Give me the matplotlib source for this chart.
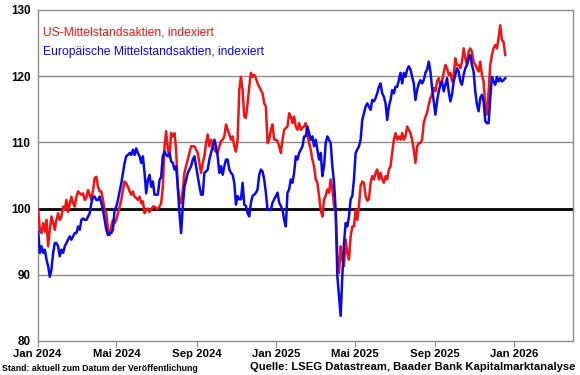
import matplotlib
matplotlib.use("Agg")
import matplotlib.pyplot as plt
import matplotlib.dates as mdates
import pandas as pd

# index values, evenly spaced from 2 Jan 2024 to 18 Dec 2025
us_values = [
    # Jan - Apr 2024
    99.9, 96.8, 96.3, 97.8, 96.5, 98.3, 94.3, 96.8, 98.8, 97.8, 96.8, 98.3, 99.3, 98.3, 98.8, 100.3,
    99.8, 101.3, 99.5, 100.8, 101.8, 100.8, 100.3, 101.8, 102.6, 102.3, 102.1, 102.3, 101.3, 101.6,
    102.8, 102.1, 101.3, 102.8, 104.6, 104.8, 103.3, 102.6, 102.6, 101.3, 99.8, 99.3, 96.8, 96.0,
    97.3, 98.3,
    # Apr - Aug 2024
    97.8, 98.3, 99.3, 100.3, 101.3, 102.8, 104.1, 103.8, 103.3, 102.6, 102.1, 102.6, 101.8, 101.6,
    101.3, 101.8, 100.8, 101.1, 99.3, 99.8, 100.0, 99.5, 99.8, 100.3, 100.3, 100.0, 100.0, 100.3,
    100.8, 103.3, 109.4, 111.7, 108.9, 107.9, 111.4, 110.9, 111.4, 108.9, 103.3, 101.3, 100.8, 102.8,
    105.4, 106.4, 107.4, 108.4, 109.4, 109.4,
    # Aug - Dec 2024
    109.4, 108.9, 108.4, 106.9, 105.4, 106.9, 107.9, 109.9, 111.2, 109.4, 110.4, 109.6, 108.9, 108.6,
    108.4, 109.4, 110.2, 110.4, 110.9, 112.7, 111.9, 111.2, 110.4, 110.9, 109.4, 108.6, 110.4, 117.9,
    119.9, 117.9, 113.9, 113.7, 115.9, 118.4, 120.5, 119.9, 120.2, 119.7, 118.9, 118.4, 117.9, 117.4,
    115.9, 115.4, 109.9, 110.4, 111.9, 112.7,
    # Dec 2024 - Apr 2025
    110.4, 110.4, 110.2, 109.4, 108.4, 110.4, 111.9, 112.2, 112.4, 114.4, 113.9, 112.9, 113.9, 112.4,
    111.9, 112.9, 111.9, 112.2, 112.4, 112.9, 111.4, 109.9, 108.9, 107.4, 106.4, 104.4, 103.9, 101.9,
    99.8, 98.8, 101.4, 101.9, 102.9, 102.4, 104.4, 102.9, 100.4, 99.6, 92.8, 90.3, 94.3, 92.3,
    91.3, 95.3, 93.3, 92.3, 95.8, 97.3,
    # May - Sep 2025
    97.3, 99.8, 98.3, 100.4, 103.4, 104.1, 103.9, 101.9, 101.2, 101.4, 103.9, 104.9, 104.4, 105.4,
    105.9, 104.4, 105.4, 104.4, 103.9, 104.9, 104.4, 105.9, 106.4, 108.4, 110.4, 111.4, 110.4, 110.9,
    110.4, 111.4, 110.4, 110.9, 112.4, 111.9, 111.4, 110.4, 108.9, 106.9, 109.4, 109.9, 109.9, 110.4,
    113.0, 113.8, 114.5,
    # Sep - Dec 2025
    115.7, 116.7, 117.2, 118.2, 117.7, 119.2, 119.7, 118.7, 119.2, 120.5, 121.7, 121.2, 120.2, 120.5,
    119.2, 120.2, 122.7, 121.7, 121.7, 121.2, 122.2, 124.2, 122.7, 121.7, 123.7, 124.2, 123.7, 122.2,
    121.7, 121.2, 120.7, 122.2, 120.2, 119.2, 115.7, 114.2, 117.7, 121.7, 123.2, 124.2, 124.7, 124.2,
    125.7, 127.7, 125.5, 125.2, 123.2,
]

eu_values = [
    # Jan - Apr 2024
    96.5, 93.3, 94.3, 93.3, 93.8, 92.3, 91.3, 89.7, 90.8, 93.3, 94.8, 94.8, 94.3, 92.8, 93.8, 93.3,
    94.3, 94.8, 95.3, 95.8, 95.3, 95.8, 96.3, 96.3, 97.3, 96.8, 98.3, 98.5, 98.3, 98.3,
    98.8, 99.3, 100.8, 101.8, 101.8, 101.3, 101.3, 101.8, 100.8, 99.8, 98.3, 96.8, 96.0, 96.3,
    96.3, 96.8,
    # Apr - Aug 2024
    99.8, 100.3, 101.3, 102.6, 103.8, 105.4, 106.9, 107.9, 108.1, 108.4, 108.1, 108.9, 108.1, 109.1,
    108.4, 107.9, 106.9, 107.9, 105.4, 102.3, 104.3, 105.1, 103.3, 104.1, 102.1, 102.1, 102.1, 104.3,
    104.8, 107.9, 108.6, 108.1, 107.9, 108.4, 107.1, 106.9, 105.9, 106.4, 103.3, 99.3, 96.3, 100.3,
    103.3, 104.3, 105.4, 105.9, 106.4, 107.4,
    # Aug - Dec 2024
    107.9, 106.4, 104.9, 103.4, 102.1, 102.1, 105.4, 105.6, 105.9, 107.4, 108.4, 109.4, 110.4, 109.4,
    107.9, 105.4, 106.4, 105.1, 106.4, 107.4, 107.4, 105.9, 105.4, 105.1, 103.9, 100.6, 101.9, 101.4,
    101.4, 103.9, 100.6, 100.4, 99.3, 98.8, 100.9, 101.9, 102.1, 102.4, 102.9, 105.1, 105.9, 105.6,
    104.4, 102.4, 99.8, 99.8, 99.8, 100.9,
    # Dec 2024 - Apr 2025
    101.4, 101.9, 102.4, 100.9, 100.4, 99.8, 98.3, 97.3, 102.4, 102.9, 104.4, 103.9, 105.4, 107.9,
    107.4, 108.4, 108.9, 109.4, 110.9, 110.9, 112.4, 111.4, 110.4, 110.9, 109.4, 110.4, 108.9, 107.4,
    108.4, 104.9, 106.4, 109.9, 110.9, 110.4, 109.9, 106.4, 103.9, 99.8, 89.8, 86.8, 83.8, 89.8,
    94.8, 97.8, 97.3, 98.8, 101.4, 101.9,
    # May - Sep 2025
    104.4, 108.4, 108.9, 109.4, 110.4, 113.4, 114.4, 115.4, 115.9, 115.4, 114.9, 116.4, 116.2, 116.7,
    117.4, 118.4, 118.9, 117.4, 116.9, 115.9, 113.4, 115.4, 116.4, 117.9, 117.4, 118.4, 118.4, 119.4,
    120.5, 118.9, 120.5, 119.9, 121.0, 121.5, 121.0, 119.9, 118.9, 116.4, 117.9, 118.9, 119.4, 118.9,
    119.4, 120.5, 121.0,
    # Sep - Dec 2025
    122.2, 120.7, 118.2, 116.2, 114.2, 116.2, 117.7, 118.7, 119.2, 117.7, 118.7, 119.7, 117.7, 116.2,
    117.2, 119.2, 120.2, 121.2, 120.7, 119.2, 118.7, 120.2, 121.2, 121.7, 122.7, 123.2, 121.7, 120.7,
    117.7, 115.7, 114.7, 116.7, 117.2, 116.2, 113.2, 112.9, 112.9, 116.7, 119.9, 119.2, 118.7, 119.9,
    119.2, 119.7, 119.2, 119.4, 119.7,
]

start_date = "2024-01-02"
end_date = "2025-12-18"
us_label = "US-Mittelstandsaktien, indexiert"
eu_label = "Europäische Mittelstandsaktien, indexiert"
month_names = {1: "Jan", 5: "Mai", 9: "Sep"}

us_dates = pd.date_range(start_date, end_date, periods=len(us_values))
eu_dates = pd.date_range(start_date, end_date, periods=len(eu_values))

plt.rcParams["font.family"] = ["Liberation Sans", "DejaVu Sans"]

red = "#f01414"
blue = "#0a0ae6"
gray = "#8c8c8c"

fig = plt.figure(figsize=(5.8, 3.75), dpi=100)
ax = fig.add_axes([0.0647, 0.0907, 0.9233, 0.8827])

# grid lines
for yv in (90, 110, 120):
    ax.axhline(yv, color=gray, lw=1.0, zorder=1)
ax.axhline(100, color="black", lw=2.0, zorder=2)

ax.plot(us_dates, us_values, color=red, lw=1.8, zorder=3)
ax.plot(eu_dates, eu_values, color=blue, lw=1.8, zorder=4)

ax.set_ylim(80, 130)
ax.set_yticks(range(80, 131, 10))
ax.set_xlim(pd.Timestamp("2024-01-01"), pd.Timestamp("2026-04-01"))
ax.xaxis.set_major_locator(mdates.MonthLocator(bymonth=[1, 5, 9]))
ax.xaxis.set_major_formatter(
    plt.FuncFormatter(lambda v, pos: "%s %d" % (month_names[mdates.num2date(v).month],
                                                mdates.num2date(v).year)))

for sp in ax.spines.values():
    sp.set_color(gray)
    sp.set_linewidth(1.0)

ax.tick_params(axis="y", length=0, pad=5, labelsize=8.4)
ax.tick_params(axis="x", length=4, color=gray, pad=2, labelsize=8.2)
for lab in ax.get_xticklabels() + ax.get_yticklabels():
    lab.set_fontweight("bold")

# legend as coloured text
fig.text(42.7 / 580, 1 - 32.3 / 375, us_label, color=red, fontsize=8.7, va="center", ha="left")
fig.text(42.7 / 580, 1 - 51.7 / 375, eu_label, color=blue, fontsize=8.7, va="center", ha="left")

# footnotes
fig.text(2 / 580, 1 - 368.5 / 375, "Stand: aktuell zum Datum der Veröffentlichung",
         fontsize=6.3, fontweight="bold", va="center", ha="left")
fig.text(575 / 580, 1 - 366.5 / 375, "Quelle: LSEG Datastream, Baader Bank Kapitalmarktanalyse",
         fontsize=8.1, fontweight="bold", va="center", ha="right")

fig.savefig("out.png", dpi=100)
